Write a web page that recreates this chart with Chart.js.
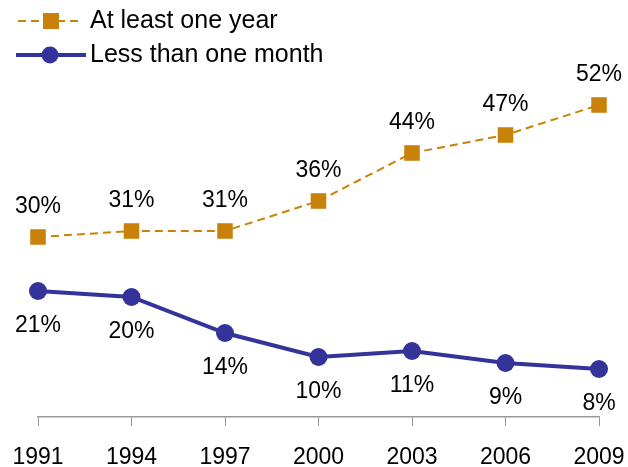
<!DOCTYPE html>
<html>
<head>
<meta charset="utf-8">
<script src="https://cdn.jsdelivr.net/npm/chart.js@4"></script>
<style>
  html, body { margin: 0; padding: 0; background: #fff; }
  #wrap { width: 628px; height: 467px; position: relative; }
</style>
</head>
<body>
<div id="wrap"><canvas id="tenureChart"></canvas></div>
<script>
// Data
const years = ['1991', '1994', '1997', '2000', '2003', '2006', '2009'];
const atLeastOneYear = [30, 31, 31, 36, 44, 47, 52];
const lessThanOneMonth = [21, 20, 14, 10, 11, 9, 8];
const seriesNames = ['At least one year', 'Less than one month'];

const orange = '#C8820A';
const blue = '#333399';
const fontFamily = "'Liberation Sans', Arial, sans-serif";

// value labels: orange above, blue below
const valueLabels = {
    id: 'valueLabels',
    afterDatasetsDraw(chart) {
        const ctx = chart.ctx;
        ctx.save();
        ctx.font = '23px ' + fontFamily;
        ctx.fillStyle = '#000';
        ctx.textAlign = 'center';
        ctx.textBaseline = 'middle';
        chart.data.datasets.forEach((ds, i) => {
            const meta = chart.getDatasetMeta(i);
            const dy = i === 0 ? -30 : 35;
            meta.data.forEach((pt, j) => {
                ctx.fillText(ds.data[j] + '%', pt.x, pt.y + dy);
            });
        });
        ctx.restore();
    }
};

// legend in top left, stacked
const stackedLegend = {
    id: 'stackedLegend',
    afterDraw(chart) {
        const ctx = chart.ctx;
        ctx.save();
        ctx.font = '25px ' + fontFamily;
        ctx.textBaseline = 'middle';

        // row 1
        ctx.strokeStyle = orange;
        ctx.lineWidth = 2;
        ctx.setLineDash([8, 5]);
        ctx.beginPath();
        ctx.moveTo(18, 21);
        ctx.lineTo(80, 21);
        ctx.stroke();
        ctx.setLineDash([]);
        ctx.fillStyle = orange;
        ctx.fillRect(43, 13, 16, 16);
        ctx.fillStyle = '#000';
        ctx.fillText(seriesNames[0], 90, 21);

        // row 2
        ctx.strokeStyle = blue;
        ctx.lineWidth = 4;
        ctx.beginPath();
        ctx.moveTo(16, 55);
        ctx.lineTo(86, 55);
        ctx.stroke();
        ctx.fillStyle = blue;
        ctx.beginPath();
        ctx.arc(50, 55, 8.5, 0, Math.PI * 2);
        ctx.fill();
        ctx.fillStyle = '#000';
        ctx.fillText(seriesNames[1], 90, 55);
        ctx.restore();
    }
};

new Chart(document.getElementById('tenureChart'), {
    type: 'line',
    data: {
        labels: years,
        datasets: [{
            label: seriesNames[0],
            data: atLeastOneYear,
            borderColor: orange,
            backgroundColor: orange,
            borderWidth: 2,
            borderDash: [8, 5],
            pointStyle: 'rect',
            pointRadius: 11,
            pointBorderWidth: 0,
            tension: 0
        }, {
            label: seriesNames[1],
            data: lessThanOneMonth,
            borderColor: blue,
            backgroundColor: blue,
            borderWidth: 4,
            pointStyle: 'circle',
            pointRadius: 9,
            pointBorderWidth: 0,
            tension: 0
        }]
    },
    options: {
        responsive: true,
        maintainAspectRatio: false,
        animation: false,
        layout: {
            padding: { left: 38, right: 29, top: 57, bottom: 0 }
        },
        plugins: {
            legend: { display: false },
            tooltip: { enabled: false }
        },
        scales: {
            x: {
                offset: false,
                grid: {
                    display: true,
                    drawOnChartArea: false,
                    drawTicks: true,
                    tickLength: 9,
                    color: '#999'
                },
                border: { display: true, color: '#999', width: 1.5 },
                ticks: {
                    color: '#000',
                    font: { size: 23, family: fontFamily },
                    padding: 18,
                    maxRotation: 0
                },
                afterFit(scale) {
                    scale.paddingLeft = 0;
                    scale.paddingRight = 0;
                    scale.height = 50;
                }
            },
            y: {
                display: false,
                min: 0,
                max: 60
            }
        }
    },
    plugins: [valueLabels, stackedLegend]
});
</script>
</body>
</html>
